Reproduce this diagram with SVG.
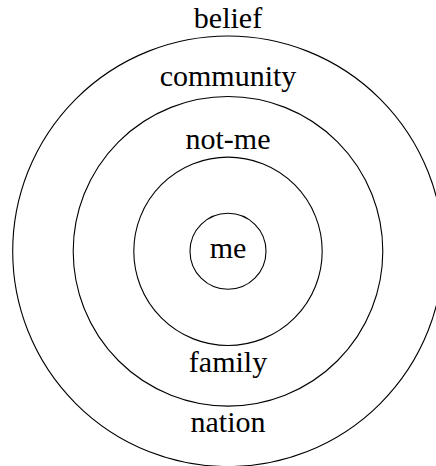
<svg xmlns="http://www.w3.org/2000/svg" width="436" height="466" viewBox="0 0 436 466">
<style>
circle{fill:none;stroke:#000;stroke-width:1.1}
text{font-family:"Liberation Serif","Times New Roman",serif;font-size:30px;fill:#000;text-anchor:middle}
</style>
<rect width="436" height="466" fill="#fff"/>
<g id="belief"><circle cx="228" cy="251.3" r="215.3"/><text x="228" y="28.3">belief</text></g>
<g id="community"><circle cx="228" cy="251.3" r="154.8"/><text x="228" y="86">community</text></g>
<g id="nation"><text x="228" y="432.3">nation</text></g>
<g id="not-me"><circle cx="228" cy="251.3" r="94.2"/><text x="228" y="149">not-me</text></g>
<g id="family"><text x="228" y="371.7">family</text></g>
<g id="me"><circle cx="228" cy="251.3" r="38"/><text x="228" y="258.3">me</text></g>
<g id="connectors"></g>
</svg>
